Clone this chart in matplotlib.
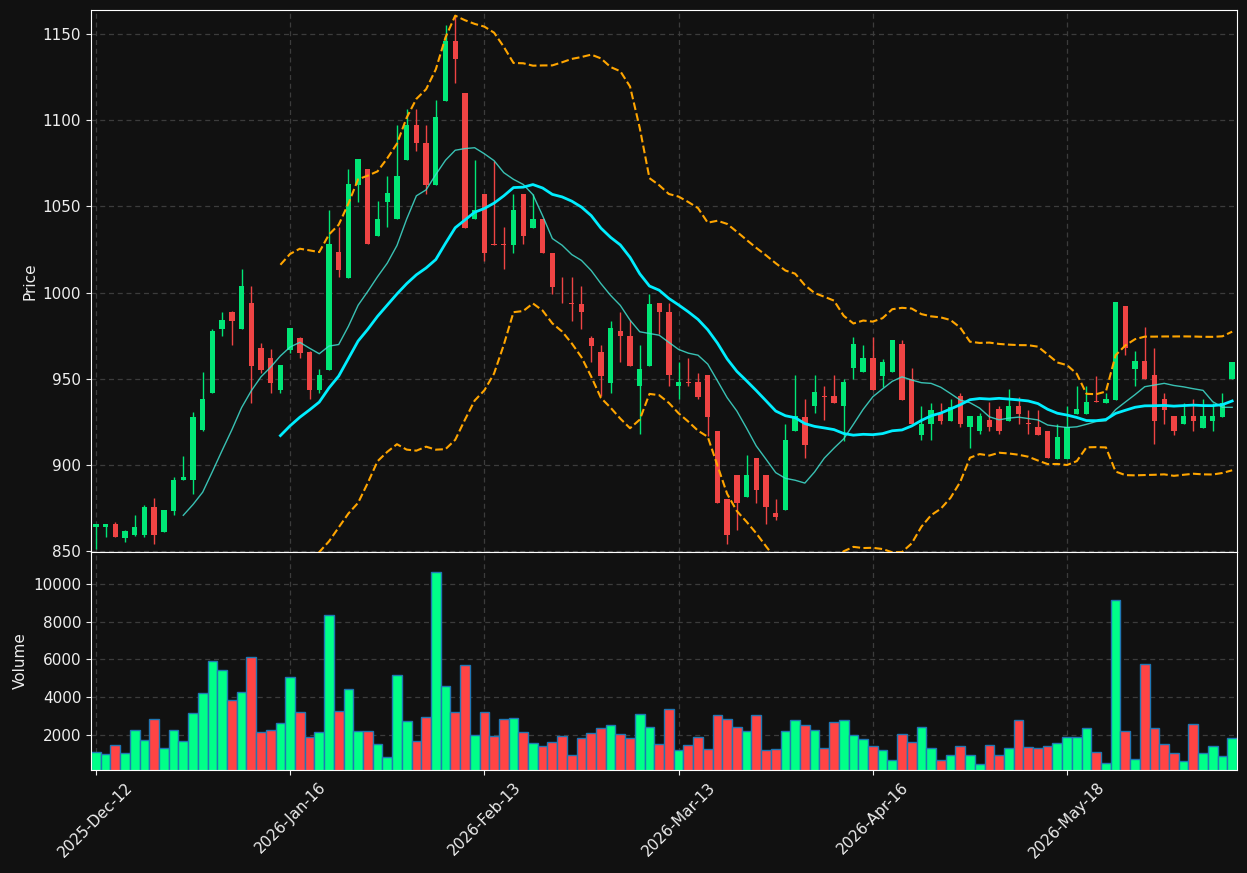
import matplotlib
matplotlib.use("Agg")
import matplotlib.pyplot as plt
import numpy as np
import pandas as pd

# daily OHLC (one row per trading bar)
opens = [864, 864, 865.5, 857.7, 859.5, 859.5, 875.5, 861, 873.5, 891,
         891, 920.5, 942, 979, 989, 979, 994, 968, 962, 943.5,
         967, 973.5, 965.5, 943.5, 955, 1023.5, 1008.5, 1062.5, 1072, 1033,
         1052.7, 1043, 1077, 1097, 1087, 1062.5, 1111, 1146, 1116, 1042.5,
         1057.5, 1028, 1028, 1027.5, 1057.5, 1037.5, 1043, 1023, 999.5, 994,
         993.5, 973.5, 965.5, 947.5, 977.5, 975, 946, 957.5, 994, 989,
         946, 948, 948, 952, 920, 880, 894, 881.5, 904, 894,
         872, 874, 920, 928, 934, 940, 940, 934, 956, 954,
         962, 951.5, 954, 970, 950, 917.5, 924, 930, 925.5, 940,
         922, 920, 926, 932.5, 925.5, 934, 924.5, 922, 920, 903.5,
         903.5, 929.5, 929.5, 937, 936, 937.5, 992, 955.5, 960.5, 952,
         938, 928.5, 924, 928.5, 921.5, 925.5, 928, 950]
highs = [866, 866, 867, 862, 871, 877, 881, 874, 893, 905,
         931, 954, 979, 989, 989.5, 1014, 1004, 971, 967.5, 958,
         979.5, 974, 966, 955.5, 1048, 1038, 1072, 1077.5, 1072, 1053,
         1067.5, 1097, 1106.5, 1106.5, 1097, 1112, 1155.5, 1161, 1116, 1077,
         1057.5, 1076.5, 1038, 1057.5, 1057.5, 1057.5, 1043, 1023, 1009, 1009,
         1004, 975, 969.5, 983.5, 989, 984, 969.5, 999, 994, 994,
         959.5, 962, 953.5, 952, 920, 880, 894, 906, 904, 894,
         880, 924, 952, 938, 952, 946, 952, 950, 974, 969.5,
         974, 961.5, 972.5, 972.5, 956, 934, 936, 936, 938, 942,
         928.5, 930, 936.5, 934, 944, 939.5, 932, 932, 920, 924,
         934, 946, 946, 951.5, 942, 994.5, 992, 966, 980, 968,
         942, 928.5, 936, 938, 938, 936, 942, 960]
lows = [851.5, 858, 858, 855.5, 859, 858, 854, 861, 871, 891,
        883, 920, 942, 975, 969.5, 979, 936, 953.5, 942, 942,
        965, 962, 938, 942, 955, 1009, 1008.5, 1052.7, 1028, 1033,
        1038, 1043, 1077, 1082, 1057.5, 1062.5, 1111, 1121.5, 1037.5, 1042.5,
        1018.5, 1027.5, 1013.5, 1023, 1028, 1037.5, 1023, 999, 994, 983.5,
        979, 959.5, 940, 942, 959.5, 957.5, 918, 957.5, 976, 946,
        938, 946, 938, 917, 878, 854, 862, 881.5, 878, 866,
        868, 874, 920, 904, 930, 926, 936, 914, 950, 954,
        943.5, 945.5, 954, 937.5, 924, 914.5, 914.5, 924, 925.5, 922,
        910, 918, 920, 918, 925.5, 924, 918, 917.5, 904, 903.5,
        903.5, 929.5, 929.5, 936.3, 936, 937.5, 964, 946, 950, 912,
        924, 917.5, 924, 920, 921.5, 920, 928, 950]
closes = [865.5, 866, 858, 861.5, 864, 875.5, 859.5, 874, 891, 893,
          928, 938, 977.5, 984, 983.5, 1004, 957.5, 955, 947.5, 958,
          979.5, 965, 943.5, 952, 1028, 1013, 1063, 1077.5, 1028, 1043,
          1058, 1067.5, 1097, 1087, 1062.5, 1102, 1146, 1135.5, 1037.5, 1048,
          1023, 1027.5, 1027.5, 1048, 1033, 1043, 1023, 1003.5, 999, 993.5,
          989, 969, 951.5, 979.5, 975, 957.5, 955.5, 993.5, 989, 952,
          948, 947.5, 939.5, 928, 878, 859.5, 878, 894, 885.5, 875.5,
          870, 914.5, 928.5, 911.5, 942.5, 939.5, 936, 948, 970, 962,
          943.5, 960, 972.5, 937.5, 924, 924, 932, 925.5, 933.5, 924,
          928.5, 928.5, 922, 920, 934, 929.5, 924, 917.5, 904, 916,
          922, 932.5, 936.5, 936.3, 938, 994.5, 968, 960.5, 950, 925.5,
          932, 920, 928.5, 925.5, 928.5, 928.5, 936, 960]
volumes = [1077, 970, 1450, 1024, 2250, 1717, 2837, 1290, 2250, 1664,
           3157, 4224, 5930, 5450, 3850, 4277, 6144, 2144, 2250, 2624,
           5077, 3210, 1877, 2144, 8330, 3264, 4437, 2197, 2197, 1504,
           810, 5184, 2730, 1664, 2944, 10624, 4597, 3210, 5717, 1984,
           3210, 1930, 2837, 2890, 2144, 1557, 1397, 1610, 1930, 917,
           1824, 2090, 2357, 2517, 2037, 1824, 3104, 2410, 1504, 3370,
           1184, 1450, 1877, 1237, 3050, 2837, 2410, 2197, 3050, 1184,
           1237, 2197, 2784, 2517, 2250, 1290, 2677, 2784, 1984, 1770,
           1397, 1184, 650, 2037, 1610, 2410, 1290, 650, 917, 1397,
           917, 437, 1450, 917, 1290, 2784, 1344, 1290, 1397, 1557,
           1877, 1877, 2357, 1077, 490, 9130, 2197, 704, 5770, 2357,
           1504, 1024, 597, 2570, 1024, 1397, 864, 1824]

tick_pos = [0, 20, 40, 60, 80, 100]
tick_labels = ["2025-Dec-12", "2026-Jan-16", "2026-Feb-13",
               "2026-Mar-13", "2026-Apr-16", "2026-May-18"]

BG = "#111111"
UP, DOWN = "#00e676", "#ef4444"
VUP, VDOWN = "#00ff88", "#ff4444"
TXT = "#eeeeee"

df = pd.DataFrame({"open": opens, "high": highs, "low": lows,
                   "close": closes, "volume": volumes})
x = np.arange(len(df))
up = df["close"] >= df["open"]
sma10 = df["close"].rolling(10).mean()
sma20 = df["close"].rolling(20).mean()
std20 = df["close"].rolling(20).std(ddof=0)

fig = plt.figure(figsize=(12.47, 8.73), dpi=100, facecolor=BG)
gs = fig.add_gridspec(2, 1, height_ratios=[542, 218], hspace=0,
                      left=0.073, right=0.992, top=0.9885, bottom=0.118)
ax = fig.add_subplot(gs[0])
axv = fig.add_subplot(gs[1], sharex=ax)

for a in (ax, axv):
    a.set_facecolor(BG)
    a.grid(True, color="#3c3c3c", ls=(0, (4, 3)), lw=0.9)
    a.set_axisbelow(True)
    for s in a.spines.values():
        s.set_color("white")
    a.tick_params(colors=TXT, labelsize=11)

cols = np.where(up, UP, DOWN)
ax.vlines(x, df["low"], df["high"], colors=cols, lw=1, zorder=2)
body = (df["close"] - df["open"]).abs().clip(lower=0.4)
ax.bar(x, body, bottom=np.minimum(df["open"], df["close"]), width=0.55,
       color=cols, zorder=3)
ax.plot(x, sma10, color="#40e0d0", lw=1, alpha=0.85, zorder=4)
ax.plot(x, sma20, color="#00eeff", lw=2, zorder=4)
ax.plot(x, sma20 + 2 * std20, color="orange", ls="--", lw=1.5, zorder=4)
ax.plot(x, sma20 - 2 * std20, color="orange", ls="--", lw=1.5, zorder=4)
ax.set_ylim(849.5, 1164)
ax.set_yticks(range(850, 1151, 50))
ax.set_ylabel("Price", color=TXT, fontsize=11)
ax.tick_params(axis="x", labelbottom=False, length=0)

axv.bar(x, df["volume"], width=1.0, color=np.where(up, VUP, VDOWN),
        edgecolor="#1f77b4", lw=1, zorder=2)
axv.set_ylim(130, 11700)
axv.set_yticks(range(2000, 10001, 2000))
axv.set_ylabel("Volume", color=TXT, fontsize=11)
axv.set_xlim(-0.5, len(df) - 0.5)
axv.set_xticks(tick_pos)
axv.set_xticklabels(tick_labels, rotation=45)

fig.savefig("out.png", dpi=100, facecolor=BG)
